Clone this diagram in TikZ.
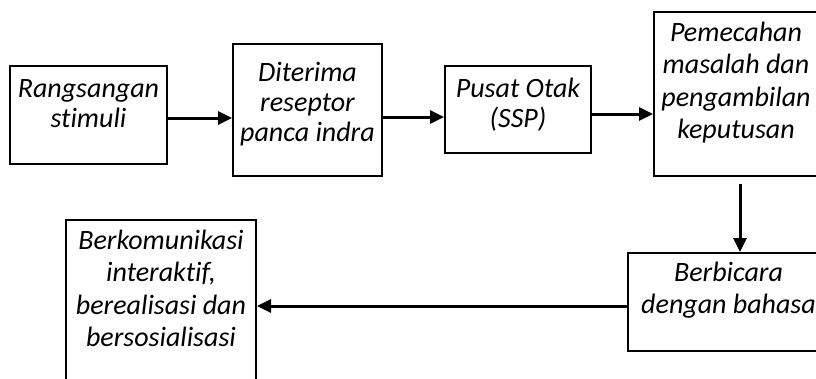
\documentclass[tikz,border=0pt]{standalone}
\usepackage{fontspec}
\setmainfont{Carlito}[Ligatures=NoCommon]
\usetikzlibrary{arrows.meta}

\begin{document}
\begin{tikzpicture}[x=1pt,y=-1pt,
  kotak/.style={draw,line width=2pt,align=center,inner sep=2pt,font=\fontsize{28}{32.5}\selectfont\itshape},
  rapat/.style={font=\fontsize{28}{30}\selectfont\itshape},
  panah/.style={line width=3pt,-{Triangle[length=14pt,width=13pt]}}]
\useasboundingbox (0,0) rectangle (816,378);
\clip (0,0) rectangle (816,378);
% baris atas
\node[kotak,rapat,minimum width=157pt,minimum height=98pt] (rangsang) at (88.5,115) {Rangsangan\\stimuli\\[-7.4pt]~};
\node[kotak,rapat,minimum width=149pt,minimum height=132pt] (reseptor) at (307.5,110) {Diterima\\reseptor\\panca indra\\[-14.4pt]~};
\node[kotak,rapat,minimum width=146pt,minimum height=87pt] (otak) at (518,109.5) {Pusat Otak\\(SSP)\\[-15.6pt]~};
\node[kotak,minimum width=164pt,minimum height=164pt] (keputusan) at (736,94) {Pemecahan\\masalah dan\\pengambilan\\keputusan\\[-5.4pt]~};
% baris bawah
\node[kotak,minimum width=201pt,minimum height=98pt] (bicara) at (728.5,302) {Berbicara\\dengan bahasa\\[-4.4pt]~};
\node[kotak,minimum width=190pt,minimum height=160pt] (komunikasi) at (161,300) {Berkomunikasi\\interaktif,\\berealisasi dan\\bersosialisasi\\[-9.4pt]~};
% panah
\draw[panah] ([yshift=-3pt]rangsang.east) -- ([yshift=-3pt]rangsang.east -| reseptor.west);
\draw[panah] ([yshift=-7pt]reseptor.east) -- ([yshift=-7pt]reseptor.east -| otak.west);
\draw[panah] ([yshift=-4.5pt]otak.east) -- ([yshift=-4.5pt]otak.east -| keputusan.west);
\draw[panah,shorten <=7pt] ([xshift=4pt]keputusan.south) -- ([xshift=4pt]keputusan.south |- bicara.north);
\draw[panah] ([yshift=-4pt]bicara.west) -- ([yshift=-4pt]bicara.west -| komunikasi.east);
\end{tikzpicture}
\end{document}
